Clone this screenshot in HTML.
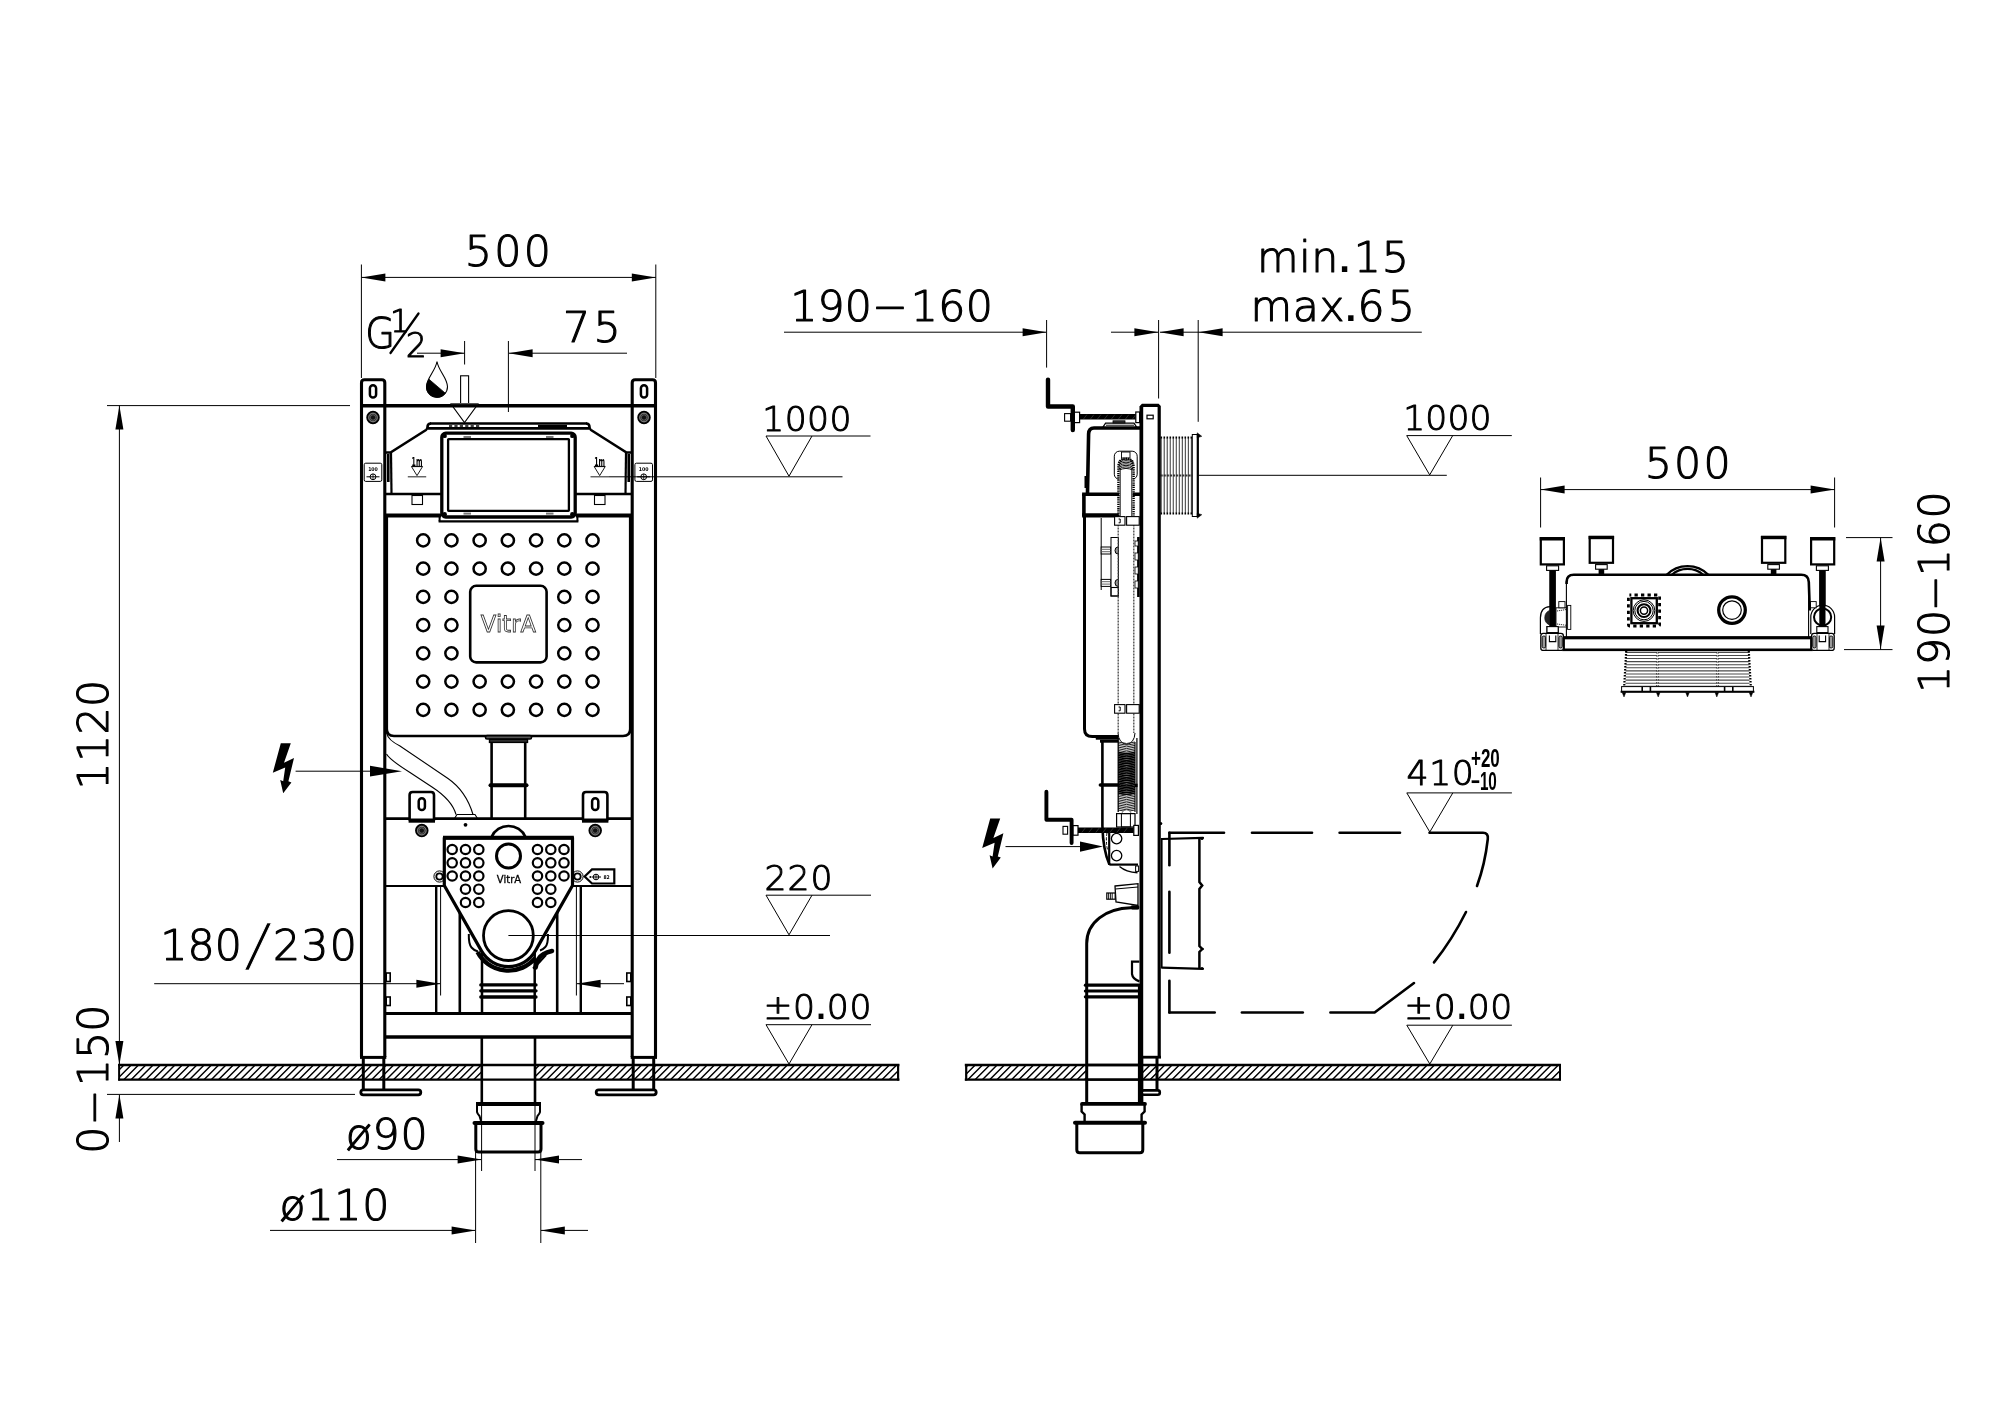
<!DOCTYPE html>
<html lang="en"><head><meta charset="utf-8"><title>Concealed cistern frame – technical drawing</title>
<style>html,body{margin:0;padding:0;background:#fff}svg{display:block;will-change:transform}.t{font-family:"DejaVu Sans Light","DejaVu Sans","Liberation Sans",sans-serif;font-weight:200;fill:#000;stroke:#000;stroke-width:1.1px;font-kerning:none;stroke-linejoin:round}.lb{font-family:"Liberation Sans",sans-serif;font-weight:bold;fill:#000;stroke:none}.s{font-family:"DejaVu Sans","Liberation Sans",sans-serif;fill:#000;stroke:none}.b{font-family:"DejaVu Sans Condensed","DejaVu Sans","Liberation Sans",sans-serif;font-weight:bold;fill:#000;stroke:none}</style></head><body>
<svg width="2000" height="1412" viewBox="0 0 2000 1412">
<rect width="2000" height="1412" fill="#fff"/>
<defs>
<clipPath id="cf1"><rect x="119.4" y="1065" width="362" height="15"/><rect x="535" y="1065" width="363.5" height="15"/></clipPath>
<clipPath id="cf2"><rect x="965.7" y="1065" width="120.8" height="15"/><rect x="1143" y="1065" width="417" height="15"/></clipPath>
</defs>
<g stroke="#000" fill="none" stroke-linecap="butt" stroke-linejoin="miter">
<g id="front">
<path d="M101.63,1080l15,-15M108.92,1080l15,-15M116.21,1080l15,-15M123.50,1080l15,-15M130.79,1080l15,-15M138.08,1080l15,-15M145.37,1080l15,-15M152.66,1080l15,-15M159.95,1080l15,-15M167.24,1080l15,-15M174.53,1080l15,-15M181.82,1080l15,-15M189.11,1080l15,-15M196.40,1080l15,-15M203.69,1080l15,-15M210.98,1080l15,-15M218.27,1080l15,-15M225.56,1080l15,-15M232.85,1080l15,-15M240.14,1080l15,-15M247.43,1080l15,-15M254.72,1080l15,-15M262.01,1080l15,-15M269.30,1080l15,-15M276.59,1080l15,-15M283.88,1080l15,-15M291.17,1080l15,-15M298.46,1080l15,-15M305.75,1080l15,-15M313.04,1080l15,-15M320.33,1080l15,-15M327.62,1080l15,-15M334.91,1080l15,-15M342.20,1080l15,-15M349.49,1080l15,-15M356.78,1080l15,-15M364.07,1080l15,-15M371.36,1080l15,-15M378.65,1080l15,-15M385.94,1080l15,-15M393.23,1080l15,-15M400.52,1080l15,-15M407.81,1080l15,-15M415.10,1080l15,-15M422.39,1080l15,-15M429.68,1080l15,-15M436.97,1080l15,-15M444.26,1080l15,-15M451.55,1080l15,-15M458.84,1080l15,-15M466.13,1080l15,-15M473.42,1080l15,-15M480.71,1080l15,-15M488.00,1080l15,-15M495.29,1080l15,-15M502.58,1080l15,-15M509.87,1080l15,-15M517.16,1080l15,-15M524.45,1080l15,-15M531.74,1080l15,-15M539.03,1080l15,-15M546.32,1080l15,-15M553.61,1080l15,-15M560.90,1080l15,-15M568.19,1080l15,-15M575.48,1080l15,-15M582.77,1080l15,-15M590.06,1080l15,-15M597.35,1080l15,-15M604.64,1080l15,-15M611.93,1080l15,-15M619.22,1080l15,-15M626.51,1080l15,-15M633.80,1080l15,-15M641.09,1080l15,-15M648.38,1080l15,-15M655.67,1080l15,-15M662.96,1080l15,-15M670.25,1080l15,-15M677.54,1080l15,-15M684.83,1080l15,-15M692.12,1080l15,-15M699.41,1080l15,-15M706.70,1080l15,-15M713.99,1080l15,-15M721.28,1080l15,-15M728.57,1080l15,-15M735.86,1080l15,-15M743.15,1080l15,-15M750.44,1080l15,-15M757.73,1080l15,-15M765.02,1080l15,-15M772.31,1080l15,-15M779.60,1080l15,-15M786.89,1080l15,-15M794.18,1080l15,-15M801.47,1080l15,-15M808.76,1080l15,-15M816.05,1080l15,-15M823.34,1080l15,-15M830.63,1080l15,-15M837.92,1080l15,-15M845.21,1080l15,-15M852.50,1080l15,-15M859.79,1080l15,-15M867.08,1080l15,-15M874.37,1080l15,-15M881.66,1080l15,-15M888.95,1080l15,-15M896.24,1080l15,-15" stroke-width="1.45" clip-path="url(#cf1)"/>
<path d="M118.2,1065L899.4,1065" stroke-width="2.5" />
<path d="M118.2,1079.6L899.4,1079.6" stroke-width="2.3" />
<path d="M119.1,1064L119.1,1080.6" stroke-width="2" />
<path d="M898.1,1064L898.1,1080.6" stroke-width="2.2" />
<path d="M361.5,1057V382.8Q361.5,379.8 364.5,379.8H381.8Q384.8,379.8 384.8,382.8V1057" stroke-width="3.1" fill="none" />
<path d="M360,1057.4L386.3,1057.4" stroke-width="3" />
<path d="M363.3,1057L363.3,1090" stroke-width="3" />
<path d="M383.8,1057L383.8,1090" stroke-width="3" />
<rect x="360.8" y="1089.8" width="60" height="5" rx="2.5" stroke-width="2.8" fill="#fff" />
<rect x="369.9" y="385.2" width="6.2" height="12.4" rx="3.1" stroke-width="2.5" fill="none" />
<circle cx="373" cy="417.5" r="5.9" stroke-width="1.7" fill="#2a2a2a" />
<circle cx="373" cy="417.5" r="4.3" stroke-width="0.7" fill="none" stroke="#aaa"/>
<circle cx="373" cy="417.5" r="2.7" stroke-width="0.6" fill="#111" stroke="#888"/>
<rect x="386.2" y="973" width="4" height="8.5" rx="0" stroke-width="1.6" fill="none" />
<rect x="386.2" y="997" width="4" height="8.5" rx="0" stroke-width="1.6" fill="none" />
<path d="M655.5,1057V382.8Q655.5,379.8 652.5,379.8H635.2Q632.2,379.8 632.2,382.8V1057" stroke-width="3.1" fill="none" />
<path d="M630.7,1057.4L657,1057.4" stroke-width="3" />
<path d="M653.7,1057L653.7,1090" stroke-width="3" />
<path d="M633.2,1057L633.2,1090" stroke-width="3" />
<rect x="596.2" y="1089.8" width="60" height="5" rx="2.5" stroke-width="2.8" fill="#fff" />
<rect x="640.9" y="385.2" width="6.2" height="12.4" rx="3.1" stroke-width="2.5" fill="none" />
<circle cx="644" cy="417.5" r="5.9" stroke-width="1.7" fill="#2a2a2a" />
<circle cx="644" cy="417.5" r="4.3" stroke-width="0.7" fill="none" stroke="#aaa"/>
<circle cx="644" cy="417.5" r="2.7" stroke-width="0.6" fill="#111" stroke="#888"/>
<rect x="626.8" y="973" width="4" height="8.5" rx="0" stroke-width="1.6" fill="none" />
<rect x="626.8" y="997" width="4" height="8.5" rx="0" stroke-width="1.6" fill="none" />
<path d="M361.5,405.7L655.5,405.7" stroke-width="3.6" />
<rect x="364.2" y="463.2" width="17.6" height="18.2" rx="1.5" stroke-width="1" fill="#fff" />
<text x="373" y="471.2" font-size="5.2" text-anchor="middle" class="b" >100</text>
<circle cx="373" cy="476.8" r="2.9" stroke-width="1" fill="none" />
<path d="M366.5,476.8L379.5,476.8" stroke-width="1" />
<path d="M373,473.9L373,479.7" stroke-width="0.8" />
<rect x="634.9" y="463.2" width="17.6" height="18.2" rx="1.5" stroke-width="1" fill="#fff" />
<text x="643.7" y="471.2" font-size="5.2" text-anchor="middle" class="b" >100</text>
<circle cx="643.7" cy="476.8" r="2.9" stroke-width="1" fill="none" />
<path d="M637.2,476.8L650.2,476.8" stroke-width="1" />
<path d="M643.7,473.9L643.7,479.7" stroke-width="0.8" />
<path d="M385.5,452.5H390.5L426,430Q427.5,429 427.5,427 Q427.5,423.5 431,423.5" stroke-width="2.6" fill="none" />
<path d="M391,452.5L391.5,494" stroke-width="2.2" />
<path d="M388.3,454L388.3,482" stroke-width="2.6" />
<path d="M386,494L441,494" stroke-width="2.6" />
<path d="M386,515.6L441,515.6" stroke-width="4" />
<rect x="412" y="495.5" width="10.5" height="9" rx="0" stroke-width="1.1" fill="none" />
<path d="M631.5,452.5H626.5L591,430Q589.5,429 589.5,427 Q589.5,423.5 586,423.5" stroke-width="2.6" fill="none" />
<path d="M626,452.5L625.5,494" stroke-width="2.2" />
<path d="M628.7,454L628.7,482" stroke-width="2.6" />
<path d="M631,494L576,494" stroke-width="2.6" />
<path d="M631,515.6L576,515.6" stroke-width="4" />
<rect x="594.5" y="495.5" width="10.5" height="9" rx="0" stroke-width="1.1" fill="none" />
<path d="M430,423.5L587,423.5" stroke-width="2.6" />
<path d="M428,428.4L589,428.4" stroke-width="2.6" />
<path d="M449,426L480,426" stroke-width="1.6" stroke-dasharray="3.2 2.2"/>
<path d="M538,426L567,426" stroke-width="2.2" />
<rect x="460.6" y="375.8" width="8" height="28.2" rx="0" stroke-width="1.1" fill="#fff" />
<path d="M451,404H478L464.5,422.5Z" stroke-width="1.1" fill="none" />
<path d="M451,403.6L478,403.6" stroke-width="1.2" stroke="#555"/>
<path d="M437,361.5C438.5,371 447.5,378 447.5,386.8A10.5,10.5 0 1 1 426.5,386.8C426.5,378 435.5,371 437,361.5Z" stroke-width="1.1" fill="#fff" />
<path d="M429,379.3L445.3,393.2A10.5,10.5 0 0 1 426.5,386.8C426.5,384 427.5,381.5 429,379.3Z" stroke-width="0.8" fill="#000" />
<text x="411.6" y="465.6" font-size="13" class="b" textLength="10.8" lengthAdjust="spacingAndGlyphs">1m</text>
<path d="M411.5,466.4L422.5,466.4" stroke-width="0.9" />
<path d="M411.5,466.6H422.5L417,475.6Z" stroke-width="0.9" fill="none" />
<path d="M407.8,476.8L426.2,476.8" stroke-width="1.1" stroke="#333"/>
<text x="594.3" y="465.6" font-size="13" class="b" textLength="10.8" lengthAdjust="spacingAndGlyphs">1m</text>
<path d="M594.2,466.4L605.2,466.4" stroke-width="0.9" />
<path d="M594.2,466.6H605.2L599.7,475.6Z" stroke-width="0.9" fill="none" />
<path d="M590.5,476.8L609,476.8" stroke-width="1.1" stroke="#333"/>
<path d="M439.6,515L439.6,521.3" stroke-width="2" />
<path d="M577.4,515L577.4,521.3" stroke-width="2" />
<path d="M438.6,521.3L578.4,521.3" stroke-width="2.2" />
<rect x="441.8" y="433.2" width="133.4" height="83.8" rx="4" stroke-width="3.3" fill="#fff" />
<rect x="448.1" y="439.1" width="120.8" height="71.7" rx="0.5" stroke-width="2.3" fill="none" />
<rect x="463.5" y="436" width="7.5" height="2" rx="0" stroke-width="0" fill="#777" stroke="none"/>
<rect x="463.5" y="512.6" width="7.5" height="2" rx="0" stroke-width="0" fill="#777" stroke="none"/>
<rect x="546" y="436" width="7.5" height="2" rx="0" stroke-width="0" fill="#777" stroke="none"/>
<rect x="546" y="512.6" width="7.5" height="2" rx="0" stroke-width="0" fill="#777" stroke="none"/>
<circle cx="572.3" cy="435.9" r="2.2" stroke-width="0" fill="#000" stroke="none"/>
<circle cx="572.3" cy="514.3" r="2.2" stroke-width="0" fill="#000" stroke="none"/>
<circle cx="444.7" cy="435.9" r="2.2" stroke-width="0" fill="#000" stroke="none"/>
<circle cx="444.7" cy="514.3" r="2.2" stroke-width="0" fill="#000" stroke="none"/>
<path d="M386.8,517V729Q386.8,736 394,736H623Q630.2,736 630.2,729V517" stroke-width="2.6" fill="none" />
<circle cx="423.2" cy="540.4" r="6.1" stroke-width="2.5" fill="none" />
<circle cx="423.2" cy="568.64" r="6.1" stroke-width="2.5" fill="none" />
<circle cx="423.2" cy="596.88" r="6.1" stroke-width="2.5" fill="none" />
<circle cx="423.2" cy="625.12" r="6.1" stroke-width="2.5" fill="none" />
<circle cx="423.2" cy="653.36" r="6.1" stroke-width="2.5" fill="none" />
<circle cx="423.2" cy="681.6" r="6.1" stroke-width="2.5" fill="none" />
<circle cx="423.2" cy="709.84" r="6.1" stroke-width="2.5" fill="none" />
<circle cx="451.42" cy="540.4" r="6.1" stroke-width="2.5" fill="none" />
<circle cx="451.42" cy="568.64" r="6.1" stroke-width="2.5" fill="none" />
<circle cx="451.42" cy="596.88" r="6.1" stroke-width="2.5" fill="none" />
<circle cx="451.42" cy="625.12" r="6.1" stroke-width="2.5" fill="none" />
<circle cx="451.42" cy="653.36" r="6.1" stroke-width="2.5" fill="none" />
<circle cx="451.42" cy="681.6" r="6.1" stroke-width="2.5" fill="none" />
<circle cx="451.42" cy="709.84" r="6.1" stroke-width="2.5" fill="none" />
<circle cx="479.64" cy="540.4" r="6.1" stroke-width="2.5" fill="none" />
<circle cx="479.64" cy="568.64" r="6.1" stroke-width="2.5" fill="none" />
<circle cx="479.64" cy="681.6" r="6.1" stroke-width="2.5" fill="none" />
<circle cx="479.64" cy="709.84" r="6.1" stroke-width="2.5" fill="none" />
<circle cx="507.86" cy="540.4" r="6.1" stroke-width="2.5" fill="none" />
<circle cx="507.86" cy="568.64" r="6.1" stroke-width="2.5" fill="none" />
<circle cx="507.86" cy="681.6" r="6.1" stroke-width="2.5" fill="none" />
<circle cx="507.86" cy="709.84" r="6.1" stroke-width="2.5" fill="none" />
<circle cx="536.08" cy="540.4" r="6.1" stroke-width="2.5" fill="none" />
<circle cx="536.08" cy="568.64" r="6.1" stroke-width="2.5" fill="none" />
<circle cx="536.08" cy="681.6" r="6.1" stroke-width="2.5" fill="none" />
<circle cx="536.08" cy="709.84" r="6.1" stroke-width="2.5" fill="none" />
<circle cx="564.3" cy="540.4" r="6.1" stroke-width="2.5" fill="none" />
<circle cx="564.3" cy="568.64" r="6.1" stroke-width="2.5" fill="none" />
<circle cx="564.3" cy="596.88" r="6.1" stroke-width="2.5" fill="none" />
<circle cx="564.3" cy="625.12" r="6.1" stroke-width="2.5" fill="none" />
<circle cx="564.3" cy="653.36" r="6.1" stroke-width="2.5" fill="none" />
<circle cx="564.3" cy="681.6" r="6.1" stroke-width="2.5" fill="none" />
<circle cx="564.3" cy="709.84" r="6.1" stroke-width="2.5" fill="none" />
<circle cx="592.52" cy="540.4" r="6.1" stroke-width="2.5" fill="none" />
<circle cx="592.52" cy="568.64" r="6.1" stroke-width="2.5" fill="none" />
<circle cx="592.52" cy="596.88" r="6.1" stroke-width="2.5" fill="none" />
<circle cx="592.52" cy="625.12" r="6.1" stroke-width="2.5" fill="none" />
<circle cx="592.52" cy="653.36" r="6.1" stroke-width="2.5" fill="none" />
<circle cx="592.52" cy="681.6" r="6.1" stroke-width="2.5" fill="none" />
<circle cx="592.52" cy="709.84" r="6.1" stroke-width="2.5" fill="none" />
<rect x="470.2" y="585.8" width="76.4" height="76.6" rx="6" stroke-width="2.6" fill="none" />
<text x="508.3" y="632.4" font-size="22.6" text-anchor="middle" font-family="DejaVu Sans,Liberation Sans,sans-serif" fill="#fff" stroke="#333" stroke-width=".8" style="font-kerning:none">VitrA</text>
<path d="M386.5,733Q388,740 400,746L448,778.5Q466,791 473,814.5" stroke-width="1.1" fill="none" />
<path d="M386.5,754Q390,760 410,772.5L432,787Q452,800 456,814.5" stroke-width="1.1" fill="none" />
<path d="M454.5,818.5L457,814.5H475L477.5,818.5" stroke-width="1.1" fill="none" />
<rect x="485.5" y="735.6" width="46" height="3.4" rx="1.5" stroke-width="1.6" fill="#555" />
<rect x="489.5" y="739.4" width="38" height="3" rx="0" stroke-width="1.4" fill="#333" />
<path d="M491.6,742L491.6,818.5" stroke-width="2.6" />
<path d="M525.2,742L525.2,818.5" stroke-width="2.6" />
<path d="M490.5,785.2L526.5,785.2" stroke-width="4" stroke-linecap="round"/>
<path d="M385,818.6L632,818.6" stroke-width="2.6" />
<path d="M409.6,820.5V795Q409.6,792 412.6,792H431Q434,792 434,795V820.5" stroke-width="2.6" fill="#fff" />
<path d="M408.6,820.6L435,820.6" stroke-width="4.2" />
<rect x="418.7" y="798.2" width="6.2" height="11.8" rx="3.1" stroke-width="2.5" fill="none" />
<circle cx="421.8" cy="830.6" r="5.9" stroke-width="1.7" fill="#2a2a2a" />
<circle cx="421.8" cy="830.6" r="4.3" stroke-width="0.7" fill="none" stroke="#aaa"/>
<circle cx="421.8" cy="830.6" r="2.7" stroke-width="0.6" fill="#111" stroke="#888"/>
<path d="M583,820.5V795Q583,792 586,792H604.4Q607.4,792 607.4,795V820.5" stroke-width="2.6" fill="#fff" />
<path d="M582,820.6L608.4,820.6" stroke-width="4.2" />
<rect x="592.1" y="798.2" width="6.2" height="11.8" rx="3.1" stroke-width="2.5" fill="none" />
<circle cx="595.2" cy="830.6" r="5.9" stroke-width="1.7" fill="#2a2a2a" />
<circle cx="595.2" cy="830.6" r="4.3" stroke-width="0.7" fill="none" stroke="#aaa"/>
<circle cx="595.2" cy="830.6" r="2.7" stroke-width="0.6" fill="#111" stroke="#888"/>
<circle cx="465.5" cy="824.8" r="1.9" stroke-width="0" fill="#000" stroke="none"/>
<path d="M385,886L444.3,886" stroke-width="2.2" />
<path d="M572.5,886L632,886" stroke-width="2.2" />
<path d="M436.2,886L436.2,1013" stroke-width="2.4" />
<path d="M440.6,886L440.6,995.5" stroke-width="1" />
<path d="M459.8,886L459.8,1013" stroke-width="2.6" />
<circle cx="439.5" cy="876.5" r="5.6" stroke-width="1" fill="none" />
<circle cx="439.5" cy="876.5" r="3.2" stroke-width="1.8" fill="none" />
<path d="M580.8,886L580.8,1013" stroke-width="2.4" />
<path d="M576.4,886L576.4,995.5" stroke-width="1" />
<path d="M557.2,886L557.2,1013" stroke-width="2.6" />
<circle cx="577.5" cy="876.5" r="5.6" stroke-width="1" fill="none" />
<circle cx="577.5" cy="876.5" r="3.2" stroke-width="1.8" fill="none" />
<path d="M482,945L482,1013" stroke-width="2.5" />
<path d="M534.7,945L534.7,1013" stroke-width="2.5" />
<path d="M480.8,984.9L536,984.9" stroke-width="3.3" stroke-linecap="round"/>
<path d="M480.8,990.8L536,990.8" stroke-width="3.3" stroke-linecap="round"/>
<path d="M480.8,997L536,997" stroke-width="3.3" stroke-linecap="round"/>
<path d="M468.8,934Q468.6,944 471.5,947.5Q474,950.5 478,951.5" stroke-width="2" fill="none" />
<path d="M548,934Q548.2,944 545.3,947Q543,949.5 540,950.5" stroke-width="2" fill="none" />
<path d="M477.5,952.0A35,35 0 0 0 535.2,958.1" stroke-width="4.4" fill="none" />
<path d="M535.6,967.5Q537,958 543,954.5Q547,952 552,951" stroke-width="4.6" fill="none" stroke-linecap="round"/>
<path d="M533,968.4Q540,962 546,955" stroke-width="2" fill="none" />
<path d="M491.5,837A18.6,18.6 0 0 1 525.5,837" stroke-width="2.6" fill="none" />
<path d="M444.3,837.8H572.5V885.5L535.36,950.91A31,31 0 0 1 481.44,950.91L444.3,885.5Z" stroke-width="3.2" fill="#fff" stroke-linejoin="round"/>
<path d="M443,837.8L573.8,837.8" stroke-width="4" />
<circle cx="452.2" cy="849.5" r="4.7" stroke-width="2.2" fill="none" />
<circle cx="452.2" cy="862.8" r="4.7" stroke-width="2.2" fill="none" />
<circle cx="452.2" cy="876" r="4.7" stroke-width="2.2" fill="none" />
<circle cx="465.5" cy="849.5" r="4.7" stroke-width="2.2" fill="none" />
<circle cx="465.5" cy="862.8" r="4.7" stroke-width="2.2" fill="none" />
<circle cx="465.5" cy="876" r="4.7" stroke-width="2.2" fill="none" />
<circle cx="465.5" cy="889.2" r="4.7" stroke-width="2.2" fill="none" />
<circle cx="465.5" cy="902.5" r="4.7" stroke-width="2.2" fill="none" />
<circle cx="478.8" cy="849.5" r="4.7" stroke-width="2.2" fill="none" />
<circle cx="478.8" cy="862.8" r="4.7" stroke-width="2.2" fill="none" />
<circle cx="478.8" cy="876" r="4.7" stroke-width="2.2" fill="none" />
<circle cx="478.8" cy="889.2" r="4.7" stroke-width="2.2" fill="none" />
<circle cx="478.8" cy="902.5" r="4.7" stroke-width="2.2" fill="none" />
<circle cx="537.5" cy="849.5" r="4.7" stroke-width="2.2" fill="none" />
<circle cx="537.5" cy="862.8" r="4.7" stroke-width="2.2" fill="none" />
<circle cx="537.5" cy="876" r="4.7" stroke-width="2.2" fill="none" />
<circle cx="537.5" cy="889.2" r="4.7" stroke-width="2.2" fill="none" />
<circle cx="537.5" cy="902.5" r="4.7" stroke-width="2.2" fill="none" />
<circle cx="550.8" cy="849.5" r="4.7" stroke-width="2.2" fill="none" />
<circle cx="550.8" cy="862.8" r="4.7" stroke-width="2.2" fill="none" />
<circle cx="550.8" cy="876" r="4.7" stroke-width="2.2" fill="none" />
<circle cx="550.8" cy="889.2" r="4.7" stroke-width="2.2" fill="none" />
<circle cx="550.8" cy="902.5" r="4.7" stroke-width="2.2" fill="none" />
<circle cx="564" cy="849.5" r="4.7" stroke-width="2.2" fill="none" />
<circle cx="564" cy="862.8" r="4.7" stroke-width="2.2" fill="none" />
<circle cx="564" cy="876" r="4.7" stroke-width="2.2" fill="none" />
<circle cx="508.5" cy="856" r="12" stroke-width="3" fill="none" />
<circle cx="508.4" cy="935.6" r="24.9" stroke-width="2.8" fill="none" />
<text x="509" y="882.6" font-size="10" text-anchor="middle" class="s" style="stroke:#000;stroke-width:.3px">VitrA</text>
<path d="M584.6,876.5L592,869.4H614.3V883.5H592Z" stroke-width="2.2" fill="#fff" />
<circle cx="596" cy="877" r="2.8" stroke-width="1" fill="none" />
<path d="M591.5,877L601,877" stroke-width="1" />
<path d="M596,874L596,880" stroke-width="0.8" />
<circle cx="590.3" cy="877" r="0.9" stroke-width="0" fill="#000" stroke="none"/>
<text x="606.6" y="878.8" font-size="5" text-anchor="middle" class="b" >82</text>
<path d="M385,1013.6L632,1013.6" stroke-width="3" />
<path d="M385,1037L632,1037" stroke-width="3.4" />
<path d="M481.8,1037L481.8,1103" stroke-width="2.6" />
<path d="M535,1037L535,1103" stroke-width="2.6" />
<path d="M477,1104V1112Q477.5,1114 479.5,1116L481,1121" stroke-width="2" fill="none" />
<path d="M540,1104V1112Q539.5,1114 537.5,1116L536,1121" stroke-width="2" fill="none" />
<path d="M476,1104L541,1104" stroke-width="4" />
<path d="M474.5,1123L542.5,1123" stroke-width="4" stroke-linecap="round"/>
<path d="M475.8,1124V1149Q475.8,1152 478.8,1152H538Q541,1152 541,1149V1124" stroke-width="3" fill="none" />
<path d="M481.6,1104L481.6,1171" stroke-width="1" />
<path d="M535,1104L535,1171" stroke-width="1" />
<path d="M475.6,1152L475.6,1243" stroke-width="1" />
<path d="M540.8,1152L540.8,1243" stroke-width="1" />
<path d="M508.4,935.5L830,935.5" stroke-width="1" />
<path d="M609,476.8L842.5,476.8" stroke-width="1" />
</g>
<g id="fdim">
<path d="M361.4,264.5L361.4,378" stroke-width="1" />
<path d="M655.8,264.5L655.8,378" stroke-width="1" />
<path d="M361.4,277.4L655.8,277.4" stroke-width="1" />
<polygon points="361.4,277.4 385.4,273.4 385.4,281.4" stroke-width="0" fill="#000" stroke="none"/>
<polygon points="655.8,277.4 631.8,281.4 631.8,273.4" stroke-width="0" fill="#000" stroke="none"/>
<text y="266" font-size="42.7" class="t" style="stroke-width:1.1px" ><tspan x="464.84" letter-spacing="2.29">500</tspan></text>
<path d="M508.4,341L508.4,412" stroke-width="1" />
<path d="M509,353.2L627,353.2" stroke-width="1" />
<polygon points="508.6,353.2 532.6,349.2 532.6,357.2" stroke-width="0" fill="#000" stroke="none"/>
<text y="341.8" font-size="42.7" class="t" style="stroke-width:1.1px" ><tspan x="563.05" letter-spacing="3.32">75</tspan></text>
<path d="M464.6,341L464.6,364.5" stroke-width="1" />
<path d="M417,353.2L464.5,353.2" stroke-width="1" />
<polygon points="464.6,353.2 440.6,357.2 440.6,349.2" stroke-width="0" fill="#000" stroke="none"/>
<title>G½</title>
<text transform="translate(365.3,348) scale(.9,1)" font-size="42.7" class="t">G</text>
<text y="331.5" font-size="31.5" class="t" style="stroke-width:1px" ><tspan x="390.04" letter-spacing="0.00">1</tspan></text>
<path d="M390.5,353L418.5,313.5" stroke-width="2.3" stroke-linecap="round"/>
<text y="357" font-size="33" class="t" style="stroke-width:1px" ><tspan x="405.71" letter-spacing="0.00">2</tspan></text>
<path d="M107,405.6L350,405.6" stroke-width="1" />
<path d="M119.4,405.6L119.4,1065" stroke-width="1" />
<polygon points="119.4,405.6 123.4,429.6 115.4,429.6" stroke-width="0" fill="#000" stroke="none"/>
<polygon points="119.4,1065 115.4,1041 123.4,1041" stroke-width="0" fill="#000" stroke="none"/>
<path d="M107,1094.4L355,1094.4" stroke-width="1" />
<path d="M119.4,1095L119.4,1142" stroke-width="1" />
<polygon points="119.4,1094.6 123.4,1118.6 115.4,1118.6" stroke-width="0" fill="#000" stroke="none"/>
<text transform="translate(108.2,785.5) rotate(-90)" y="0" font-size="42.7" class="t" style="stroke-width:1.1px" ><tspan x="-4.14" letter-spacing="0.36">1120</tspan></text>
<text transform="translate(108.2,1150.6) rotate(-90)" y="0" font-size="42.7" class="t" style="stroke-width:1.1px" ><tspan x="-3.27" letter-spacing="0.00">0</tspan><tspan x="25.43" letter-spacing="0.00">−</tspan><tspan x="64.46" letter-spacing="0.03">150</tspan></text>
<path d="M154.2,983.7L440,983.7" stroke-width="1" />
<polygon points="440.4,983.7 416.4,987.7 416.4,979.7" stroke-width="0" fill="#000" stroke="none"/>
<path d="M577,983.7L624,983.7" stroke-width="1" />
<polygon points="576.6,983.7 600.6,979.7 600.6,987.7" stroke-width="0" fill="#000" stroke="none"/>
<text y="959.8" font-size="42.7" class="t" style="stroke-width:1.1px" ><tspan x="160.16" letter-spacing="0.18">180</tspan><tspan x="272.99" letter-spacing="1.21">230</tspan></text>
<text transform="translate(243.2,964.6) scale(2.05,1.32)" font-size="42.7" class="t" style="stroke:#fff;stroke-width:.55px">/</text>
<polygon points="280.8,743.2 290.8,743.2 284,762.8 294,758 288.4,781.2 291.4,782.4 283.2,793.2 280.2,780 283.2,781.2 285.2,767.6 272.8,772.8" stroke-width="0" fill="#000" stroke="none"/>
<path d="M295.6,771.2L380,771.2" stroke-width="1" />
<polygon points="402,771.2 370,776.6 370,765.8" stroke-width="0" fill="#000" stroke="none"/>
<path d="M337,1159.6L481,1159.6" stroke-width="1" />
<polygon points="481.6,1159.6 457.6,1163.6 457.6,1155.6" stroke-width="0" fill="#000" stroke="none"/>
<path d="M535,1159.6L582,1159.6" stroke-width="1" />
<polygon points="535,1159.6 559,1155.6 559,1163.6" stroke-width="0" fill="#000" stroke="none"/>
<text y="1148.5" font-size="42.7" class="t" style="stroke-width:1.1px" ><tspan x="345.68" letter-spacing="0.74">ø90</tspan></text>
<path d="M270,1230.4L475,1230.4" stroke-width="1" />
<polygon points="475.6,1230.4 451.6,1234.4 451.6,1226.4" stroke-width="0" fill="#000" stroke="none"/>
<path d="M541,1230.4L588,1230.4" stroke-width="1" />
<polygon points="540.8,1230.4 564.8,1226.4 564.8,1234.4" stroke-width="0" fill="#000" stroke="none"/>
<text y="1219.5" font-size="42.7" class="t" style="stroke-width:1.1px" ><tspan x="279.58" letter-spacing="0.73">ø110</tspan></text>
<text y="431" font-size="34.6" class="t" style="stroke-width:1px" ><tspan x="762.30" letter-spacing="0.39">1000</tspan></text>
<path d="M766,436L870.5,436" stroke-width="1" />
<path d="M766,436L789,476.2L812,436" stroke-width="1" fill="none" />
<text y="889.6" font-size="34.6" class="t" style="stroke-width:1px" ><tspan x="764.40" letter-spacing="1.03">220</tspan></text>
<path d="M766,895.2L871,895.2" stroke-width="1" />
<path d="M766,895.2L789,934.8L812,895.2" stroke-width="1" fill="none" />
<text y="1018.5" font-size="34.6" class="t" style="stroke-width:1px" ><tspan x="763.47" letter-spacing="0.60">±0<tspan font-family="DejaVu Sans,Liberation Sans,sans-serif" font-weight="bold" font-size="27.7" stroke="none">.</tspan>00</tspan></text>
<path d="M766,1024.7L871,1024.7" stroke-width="1" />
<path d="M766,1024.7L789,1064L812,1024.7" stroke-width="1" fill="none" />
</g>
<g id="side">
<path d="M945.63,1080l15,-15M952.92,1080l15,-15M960.21,1080l15,-15M967.50,1080l15,-15M974.79,1080l15,-15M982.08,1080l15,-15M989.37,1080l15,-15M996.66,1080l15,-15M1003.95,1080l15,-15M1011.24,1080l15,-15M1018.53,1080l15,-15M1025.82,1080l15,-15M1033.11,1080l15,-15M1040.40,1080l15,-15M1047.69,1080l15,-15M1054.98,1080l15,-15M1062.27,1080l15,-15M1069.56,1080l15,-15M1076.85,1080l15,-15M1084.14,1080l15,-15M1091.43,1080l15,-15M1098.72,1080l15,-15M1106.01,1080l15,-15M1113.30,1080l15,-15M1120.59,1080l15,-15M1127.88,1080l15,-15M1135.17,1080l15,-15M1142.46,1080l15,-15M1149.75,1080l15,-15M1157.04,1080l15,-15M1164.33,1080l15,-15M1171.62,1080l15,-15M1178.91,1080l15,-15M1186.20,1080l15,-15M1193.49,1080l15,-15M1200.78,1080l15,-15M1208.07,1080l15,-15M1215.36,1080l15,-15M1222.65,1080l15,-15M1229.94,1080l15,-15M1237.23,1080l15,-15M1244.52,1080l15,-15M1251.81,1080l15,-15M1259.10,1080l15,-15M1266.39,1080l15,-15M1273.68,1080l15,-15M1280.97,1080l15,-15M1288.26,1080l15,-15M1295.55,1080l15,-15M1302.84,1080l15,-15M1310.13,1080l15,-15M1317.42,1080l15,-15M1324.71,1080l15,-15M1332.00,1080l15,-15M1339.29,1080l15,-15M1346.58,1080l15,-15M1353.87,1080l15,-15M1361.16,1080l15,-15M1368.45,1080l15,-15M1375.74,1080l15,-15M1383.03,1080l15,-15M1390.32,1080l15,-15M1397.61,1080l15,-15M1404.90,1080l15,-15M1412.19,1080l15,-15M1419.48,1080l15,-15M1426.77,1080l15,-15M1434.06,1080l15,-15M1441.35,1080l15,-15M1448.64,1080l15,-15M1455.93,1080l15,-15M1463.22,1080l15,-15M1470.51,1080l15,-15M1477.80,1080l15,-15M1485.09,1080l15,-15M1492.38,1080l15,-15M1499.67,1080l15,-15M1506.96,1080l15,-15M1514.25,1080l15,-15M1521.54,1080l15,-15M1528.83,1080l15,-15M1536.12,1080l15,-15M1543.41,1080l15,-15M1550.70,1080l15,-15M1557.99,1080l15,-15" stroke-width="1.45" clip-path="url(#cf2)"/>
<path d="M964.8,1065L1560.9,1065" stroke-width="2.5" />
<path d="M964.8,1079.6L1560.9,1079.6" stroke-width="2.3" />
<path d="M966.2,1064L966.2,1080.6" stroke-width="2.2" />
<path d="M1560,1064L1560,1080.6" stroke-width="2" />
<path d="M1161.20,438V513M1164.22,438V513M1167.24,438V513M1170.26,438V513M1173.28,438V513M1176.30,438V513M1179.32,438V513M1182.34,438V513M1185.36,438V513M1188.38,438V513M1191.40,438V513" stroke-width="1.1" fill="none" stroke="#4a4a4a"/>
<path d="M1160.5,437.6L1192.5,437.6" stroke-width="2" stroke-dasharray="1.6 1.4"/>
<path d="M1160.5,513.4L1192.5,513.4" stroke-width="2" stroke-dasharray="1.6 1.4"/>
<path d="M1160.5,475.4L1192.7,475.4" stroke-width="2" stroke="#333" stroke-dasharray="2.2 0.9"/>
<rect x="1192.3" y="434.5" width="5.5" height="82" rx="0" stroke-width="1" fill="#fff" />
<path d="M1197.8,434L1197.8,517" stroke-width="2.2" />
<polygon points="1197.2,432.8 1201.8,436.3 1197.2,437.8" stroke-width="0.5" fill="#000" />
<polygon points="1197.2,518.2 1201.8,514.7 1197.2,513.2" stroke-width="0.5" fill="#000" />
<path d="M1161.8,838L1161.8,968" stroke-width="1.6" />
<path d="M1161.8,839L1203,837.8" stroke-width="2.2" fill="none" stroke-linecap="round"/>
<path d="M1161.8,967.6L1203,968.8" stroke-width="2.2" fill="none" stroke-linecap="round"/>
<path d="M1199.4,838V882l2.8,3.5l-2.8,3.5V946l2.8,3l-2.8,3V968.5" stroke-width="2.5" fill="none" />
<circle cx="1202" cy="838.4" r="1.5" stroke-width="0" fill="#000" stroke="none"/>
<circle cx="1202" cy="968.6" r="1.5" stroke-width="0" fill="#000" stroke="none"/>
<circle cx="1202.6" cy="949" r="1.2" stroke-width="0" fill="#000" stroke="none"/>
<path d="M1169.4,832.8L1224,832.8" stroke-width="2.6" stroke-linecap="round"/>
<path d="M1252,832.8L1312,832.8" stroke-width="2.6" stroke-linecap="round"/>
<path d="M1339.6,832.8L1400,832.8" stroke-width="2.6" stroke-linecap="round"/>
<path d="M1429.5,832.8H1483Q1488.5,832.8 1487.8,839Q1485,864 1477,886" stroke-width="2.6" fill="none" stroke-linecap="round"/>
<path d="M1466,912Q1452,940 1434,962.4" stroke-width="2.6" fill="none" stroke-linecap="round"/>
<path d="M1414,983L1374.6,1012.5H1330.4" stroke-width="2.6" fill="none" stroke-linecap="round" stroke-linejoin="round"/>
<path d="M1302.8,1012.5L1241.9,1012.5" stroke-width="2.6" stroke-linecap="round"/>
<path d="M1214.7,1012.5L1169.4,1012.5" stroke-width="2.6" stroke-linecap="round"/>
<path d="M1169.4,832.8L1169.4,865.3" stroke-width="2.6" stroke-linecap="round"/>
<path d="M1169.4,891.8L1169.4,952.7" stroke-width="2.6" stroke-linecap="round"/>
<path d="M1169.4,980.8L1169.4,1012.5" stroke-width="2.6" stroke-linecap="round"/>
<path d="M1140,428H1094Q1088.8,428 1088.6,434L1087.5,493" stroke-width="3.6" fill="none" />
<polygon points="1105.6,423.2 1134,423.2 1136.6,427 1103,427" stroke-width="1.3" fill="#fff" />
<path d="M1106,425.4L1134,425.4" stroke-width="1.6" stroke="#555"/>
<rect x="1113" y="420.8" width="12" height="2.2" rx="0" stroke-width="0.8" fill="#333" />
<rect x="1083.9" y="494.4" width="56.1" height="21" rx="0" stroke-width="0" fill="#fff" stroke="none"/>
<path d="M1082.1,494.2L1140,494.2" stroke-width="3.6" />
<path d="M1082.1,515.4L1118.8,515.4" stroke-width="4.4" />
<path d="M1083.9,494L1083.9,516" stroke-width="3.6" />
<path d="M1084.5,516V729Q1084.5,736.6 1092.3,736.6H1118" stroke-width="3" fill="none" />
<path d="M1085.6,476L1085.6,488" stroke-width="2.2" />
<rect x="1096" y="736.6" width="22.2" height="2.8" rx="0" stroke-width="0.5" fill="#000" />
<path d="M1100,741.2L1118.2,741.2" stroke-width="3" />
<path d="M1102.4,740V826Q1103,850 1109.4,864.6" stroke-width="2.6" fill="none" />
<path d="M1100.4,785L1118,785" stroke-width="3.6" stroke-linecap="round"/>
<path d="M1101.2,518L1101.2,590" stroke-width="1" />
<rect x="1111" y="537.5" width="7.4" height="58.5" rx="0" stroke-width="1" fill="none" />
<rect x="1101.2" y="547" width="9.4" height="7" rx="0" stroke-width="1" fill="#fff" />
<path d="M1101.2,549.3L1110.6,549.3" stroke-width="0.9" stroke="#555"/>
<path d="M1101.2,551.7L1110.6,551.7" stroke-width="0.9" stroke="#555"/>
<path d="M1118,547a3,3.5 0 0 0 0,7" stroke-width="1" fill="#999" />
<rect x="1101.2" y="579.4" width="9.4" height="7" rx="0" stroke-width="1" fill="#fff" />
<path d="M1101.2,581.7L1110.6,581.7" stroke-width="0.9" stroke="#555"/>
<path d="M1101.2,584.1L1110.6,584.1" stroke-width="0.9" stroke="#555"/>
<path d="M1118,579.4a3,3.5 0 0 0 0,7" stroke-width="1" fill="#999" />
<rect x="1111" y="587.5" width="7.4" height="8.5" rx="0" stroke-width="1.1" fill="none" />
<path d="M1138.4,537L1138.4,597" stroke-width="2.6" />
<rect x="1135" y="541" width="3.2" height="5" rx="0" stroke-width="0.8" fill="#fff" />
<rect x="1135" y="553" width="3.2" height="7" rx="0" stroke-width="0.8" fill="#fff" />
<rect x="1135" y="567" width="3.2" height="7" rx="0" stroke-width="0.8" fill="#fff" />
<rect x="1135" y="581" width="3.2" height="7" rx="0" stroke-width="0.8" fill="#fff" />
<rect x="1114.3" y="451.2" width="22.9" height="28" rx="5" stroke-width="1" fill="none" />
<rect x="1121.5" y="452" width="8.5" height="6" rx="0" stroke-width="0.9" fill="none" />
<path d="M1118.6,461.20q7.4,-4.2 14.8,0M1118.6,462.75q7.4,-4.2 14.8,0M1118.6,464.30q7.4,-4.2 14.8,0M1118.6,465.85q7.4,-4.2 14.8,0M1118.6,467.40q7.4,-4.2 14.8,0M1118.6,468.95q7.4,-4.2 14.8,0M1118.6,470.50q7.4,-4.2 14.8,0" stroke-width="1" fill="none" stroke="#111"/>
<rect x="1119.2" y="470" width="13.6" height="48" rx="0" stroke-width="0" fill="#fff" stroke="none"/>
<path d="M1118.4,516V467Q1118.4,458.6 1126,458.6Q1133.6,458.6 1133.6,467V516" stroke-width="2.4" fill="none" stroke-dasharray="1.3 0.9"/>
<path d="M1120.2,516V468" stroke-width="0.9" fill="none" />
<path d="M1131.8,516V468" stroke-width="0.9" fill="none" />
<path d="M1118.2,525L1118.2,733" stroke-width="1.3" stroke="#444" stroke-dasharray="0.9 0.6"/>
<path d="M1133.8,525L1133.8,733" stroke-width="1.3" stroke="#444" stroke-dasharray="0.9 0.6"/>
<rect x="1114.6" y="516.6" width="10.4" height="8.6" rx="0" stroke-width="1.1" fill="#fff" />
<rect x="1126.6" y="516.6" width="12.6" height="8.6" rx="0" stroke-width="1.1" fill="#fff" />
<path d="M1118.6,519h1.6v3.8h-1.6" stroke-width="1" fill="none" />
<rect x="1114.6" y="704.6" width="10.4" height="8.6" rx="0" stroke-width="1.1" fill="#fff" />
<rect x="1126.6" y="704.6" width="12.6" height="8.6" rx="0" stroke-width="1.1" fill="#fff" />
<path d="M1118.6,707h1.6v3.8h-1.6" stroke-width="1" fill="none" />
<path d="M1118,733Q1118.6,743 1126.6,744.5Q1134.4,743 1135,733" stroke-width="1" fill="none" />
<path d="M1118.2,742.00q8.4,3 16.8,0M1118.2,743.70q8.4,3 16.8,0M1118.2,745.40q8.4,3 16.8,0M1118.2,747.10q8.4,3 16.8,0M1118.2,748.80q8.4,3 16.8,0M1118.2,750.50q8.4,3 16.8,0M1118.2,752.20q8.4,3 16.8,0M1118.2,753.90q8.4,3 16.8,0M1118.2,755.60q8.4,3 16.8,0M1118.2,757.30q8.4,3 16.8,0M1118.2,759.00q8.4,3 16.8,0M1118.2,760.70q8.4,3 16.8,0M1118.2,762.40q8.4,3 16.8,0M1118.2,764.10q8.4,3 16.8,0M1118.2,765.80q8.4,3 16.8,0M1118.2,767.50q8.4,3 16.8,0M1118.2,769.20q8.4,3 16.8,0M1118.2,770.90q8.4,3 16.8,0M1118.2,772.60q8.4,3 16.8,0M1118.2,774.30q8.4,3 16.8,0M1118.2,776.00q8.4,3 16.8,0M1118.2,777.70q8.4,3 16.8,0M1118.2,779.40q8.4,3 16.8,0M1118.2,781.10q8.4,3 16.8,0M1118.2,782.80q8.4,3 16.8,0M1118.2,784.50q8.4,3 16.8,0M1118.2,786.20q8.4,3 16.8,0M1118.2,787.90q8.4,3 16.8,0M1118.2,789.60q8.4,3 16.8,0M1118.2,791.30q8.4,3 16.8,0M1118.2,793.00q8.4,3 16.8,0M1118.2,794.70q8.4,3 16.8,0M1118.2,796.40q8.4,3 16.8,0M1118.2,798.10q8.4,3 16.8,0M1118.2,799.80q8.4,3 16.8,0M1118.2,801.50q8.4,3 16.8,0M1118.2,803.20q8.4,3 16.8,0M1118.2,804.90q8.4,3 16.8,0M1118.2,806.60q8.4,3 16.8,0M1118.2,808.30q8.4,3 16.8,0M1118.2,810.00q8.4,3 16.8,0" stroke-width="1" fill="none" stroke="#222"/>
<path d="M1118.2,752.00q8.4,3 16.8,0M1118.2,753.70q8.4,3 16.8,0M1118.2,755.40q8.4,3 16.8,0M1118.2,757.10q8.4,3 16.8,0M1118.2,758.80q8.4,3 16.8,0M1118.2,760.50q8.4,3 16.8,0M1118.2,762.20q8.4,3 16.8,0M1118.2,763.90q8.4,3 16.8,0M1118.2,765.60q8.4,3 16.8,0M1118.2,767.30q8.4,3 16.8,0M1118.2,769.00q8.4,3 16.8,0M1118.2,770.70q8.4,3 16.8,0M1118.2,772.40q8.4,3 16.8,0M1118.2,774.10q8.4,3 16.8,0M1118.2,775.80q8.4,3 16.8,0M1118.2,777.50q8.4,3 16.8,0M1118.2,779.20q8.4,3 16.8,0M1118.2,780.90q8.4,3 16.8,0M1118.2,782.60q8.4,3 16.8,0M1118.2,784.30q8.4,3 16.8,0M1118.2,786.00q8.4,3 16.8,0M1118.2,787.70q8.4,3 16.8,0M1118.2,789.40q8.4,3 16.8,0M1118.2,791.10q8.4,3 16.8,0M1118.2,792.80q8.4,3 16.8,0" stroke-width="1.3" fill="none" />
<path d="M1118.2,738L1118.2,812" stroke-width="1.3" />
<path d="M1135,742L1135,812" stroke-width="1.1" />
<path d="M1136.9,738L1136.9,814" stroke-width="1.2" />
<path d="M1121.5,813.6A5.5,6.5 0 0 1 1131.5,813.6Z" stroke-width="0.5" fill="#fff" />
<path d="M1135,785.4L1137.6,785.4" stroke-width="3.4" />
<rect x="1116.6" y="813.6" width="18.4" height="13.4" rx="0" stroke-width="1.2" fill="#fff" />
<rect x="1121.4" y="813.6" width="9" height="13.4" rx="0" stroke-width="1" fill="none" />
<path d="M1109.4,864.6L1138,864.6" stroke-width="2.2" />
<path d="M1109.2,833L1109.2,865" stroke-width="2.2" />
<path d="M1107,833Q1105.5,840 1107.5,850" stroke-width="1" fill="none" stroke-dasharray="3 1.5"/>
<circle cx="1116.6" cy="838.6" r="5.2" stroke-width="1.3" fill="#fff" />
<circle cx="1116.6" cy="855.6" r="5.2" stroke-width="1.3" fill="#fff" />
<path d="M1119.5,866.5Q1126,872 1137.5,872.8" stroke-width="1.4" fill="none" />
<rect x="1135.6" y="866" width="3" height="5.4" rx="0" stroke-width="1" fill="none" />
<path d="M1079.5,416.8L1135.8,416.8" stroke-width="5.6" />
<path d="M1083.5,419l3.4,-4.4M1090.5,419l3.4,-4.4M1097.5,419l3.4,-4.4M1104.5,419l3.4,-4.4M1111.5,419l3.4,-4.4M1118.5,419l3.4,-4.4M1125.5,419l3.4,-4.4M1132.5,419l3.4,-4.4" stroke-width="0.55" fill="none" stroke="#555"/>
<rect x="1064.6" y="413.6" width="6" height="7.6" rx="0" stroke-width="1.1" fill="#fff" />
<rect x="1074.4" y="412.2" width="5.2" height="10.4" rx="0" stroke-width="1.2" fill="#fff" />
<rect x="1135.8" y="412" width="3.8" height="10.6" rx="0" stroke-width="1.2" fill="#fff" />
<path d="M1048,379.6V406.5H1072.8V430" stroke-width="4.4" fill="none" stroke-linejoin="round" stroke-linecap="round"/>
<path d="M1077.8,830.3L1133.8,830.3" stroke-width="5.6" />
<path d="M1081.8,832.5l3.4,-4.4M1088.8,832.5l3.4,-4.4M1095.8,832.5l3.4,-4.4M1102.8,832.5l3.4,-4.4M1109.8,832.5l3.4,-4.4M1116.8,832.5l3.4,-4.4M1123.8,832.5l3.4,-4.4" stroke-width="0.55" fill="none" stroke="#555"/>
<rect x="1063" y="826.4" width="4.6" height="7.8" rx="0" stroke-width="1.1" fill="#fff" />
<rect x="1072.8" y="825.6" width="5.2" height="9.6" rx="0" stroke-width="1.2" fill="#fff" />
<rect x="1133.8" y="825.4" width="4.6" height="10" rx="0" stroke-width="1.2" fill="#fff" />
<path d="M1046.4,791.7V819.8H1071.6V843" stroke-width="3.9" fill="none" stroke-linejoin="round" stroke-linecap="round"/>
<path d="M1115,886L1138,883.6V905.4L1116,902Z" stroke-width="1.3" fill="#fff" />
<path d="M1115.4,889L1138,887" stroke-width="1" />
<rect x="1106.8" y="893" width="8.4" height="6.2" rx="0" stroke-width="1.2" fill="#fff" />
<path d="M1108.6,893L1108.6,899.2" stroke-width="0.9" />
<path d="M1110.4,893L1110.4,899.2" stroke-width="0.9" />
<path d="M1112.2,893L1112.2,899.2" stroke-width="0.9" />
<path d="M1139,907.8H1131C1106,908.5 1086.7,922 1086.7,943.5V1103" stroke-width="3" fill="none" />
<rect x="1131" y="905.4" width="8" height="3.8" rx="1.5" stroke-width="0.5" fill="#000" />
<path d="M1139.2,984L1139.2,1103" stroke-width="2.6" />
<path d="M1139.4,961.6H1132V974Q1132.6,979 1139.4,981.4" stroke-width="2.2" fill="none" />
<path d="M1085.4,985.2L1139,985.2" stroke-width="3.2" stroke-linecap="round"/>
<path d="M1085.4,991L1139,991" stroke-width="3.2" stroke-linecap="round"/>
<path d="M1085.4,996.8L1139,996.8" stroke-width="3.2" stroke-linecap="round"/>
<rect x="1141.4" y="405.4" width="17.8" height="652.1" rx="0" stroke-width="0" fill="#fff" stroke="none"/>
<path d="M1141.4,1057.5V406.6L1142.6,405.4H1158L1159.2,406.6V1057.5" stroke-width="3.2" fill="none" />
<path d="M1141.4,406L1141.4,1057.5" stroke-width="3.6" />
<rect x="1147" y="415.2" width="6.2" height="3.6" rx="0" stroke-width="1.2" fill="none" />
<path d="M1140,1057.2L1161,1057.2" stroke-width="2.8" />
<path d="M1157,1057.5L1157,1091" stroke-width="3" />
<path d="M1140.7,1057L1140.7,1102" stroke-width="5.3" />
<rect x="1141.8" y="1090.4" width="18" height="4.4" rx="2" stroke-width="2.6" fill="#fff" />
<circle cx="1160.8" cy="823.6" r="1.5" stroke-width="0" fill="#000" stroke="none"/>
<path d="M1086,1065L1143,1065" stroke-width="2.5" />
<path d="M1086,1079.6L1143,1079.6" stroke-width="2.3" />
<path d="M1081.6,1104V1111.5L1084.6,1114.5V1122" stroke-width="2.4" fill="none" />
<path d="M1144.6,1104V1111.5L1141.6,1114.5V1122" stroke-width="2.4" fill="none" />
<path d="M1082,1103.9L1145,1103.9" stroke-width="3.8" stroke-linecap="round"/>
<path d="M1075,1122.8L1145,1122.8" stroke-width="4" stroke-linecap="round"/>
<path d="M1076.8,1124V1149.8Q1076.8,1152.8 1079.8,1152.8H1139.8Q1142.8,1152.8 1142.8,1149.8V1124" stroke-width="3" fill="none" />
</g>
<g id="sdim">
<path d="M784,332.2L1046,332.2" stroke-width="1" />
<polygon points="1046.6,332.2 1022.6,336.2 1022.6,328.2" stroke-width="0" fill="#000" stroke="none"/>
<path d="M1046.6,320L1046.6,367.6" stroke-width="1" />
<text y="321.2" font-size="42.7" class="t" style="stroke-width:1.1px" ><tspan x="790.16" letter-spacing="0.13">190</tspan><tspan x="872.33" letter-spacing="0.00">−</tspan><tspan x="910.66" letter-spacing="0.43">160</tspan></text>
<path d="M1111,332.2L1158,332.2" stroke-width="1" />
<polygon points="1158.4,332.2 1134.4,336.2 1134.4,328.2" stroke-width="0" fill="#000" stroke="none"/>
<path d="M1158.6,320L1158.6,398.5" stroke-width="1" />
<path d="M1160,332.2L1421.8,332.2" stroke-width="1" />
<polygon points="1159.6,332.2 1183.6,328.2 1183.6,336.2" stroke-width="0" fill="#000" stroke="none"/>
<polygon points="1198.6,332.2 1222.6,328.2 1222.6,336.2" stroke-width="0" fill="#000" stroke="none"/>
<path d="M1198.2,320L1198.2,421.8" stroke-width="1" />
<text y="271.75" font-size="42.7" class="t" style="stroke-width:1.1px" ><tspan x="1256.91" letter-spacing="0.46">min<tspan font-family="DejaVu Sans,Liberation Sans,sans-serif" font-weight="bold" font-size="30.7" stroke="none">.</tspan></tspan><tspan x="1353.86" letter-spacing="0.81">15</tspan></text>
<text y="321.25" font-size="42.7" class="t" style="stroke-width:1.1px" ><tspan x="1250.61" letter-spacing="0.49">max<tspan font-family="DejaVu Sans,Liberation Sans,sans-serif" font-weight="bold" font-size="30.7" stroke="none">.</tspan></tspan><tspan x="1357.50" letter-spacing="2.97">65</tspan></text>
<path d="M1198.6,475.3L1446.8,475.3" stroke-width="1" />
<text y="430.3" font-size="34.6" class="t" style="stroke-width:1px" ><tspan x="1403.30" letter-spacing="0.05">1000</tspan></text>
<path d="M1406.7,435.6L1511.8,435.6" stroke-width="1" />
<path d="M1406.7,435.6L1429.7,474.9L1452.7,435.6" stroke-width="1" fill="none" />
<text y="784.8" font-size="34.6" class="t" style="stroke-width:1px" ><tspan x="1406.51" letter-spacing="0.63">410</tspan></text>
<text transform="translate(1471,767.4) scale(.68,1)" font-size="25" class="lb">+20</text>
<text transform="translate(1471,790) scale(.61,1)" font-size="25" class="lb">−10</text>
<path d="M1406.8,792.9L1511.9,792.9" stroke-width="1" />
<path d="M1406.8,792.9L1429.8,832L1452.8,792.9" stroke-width="1" fill="none" />
<text y="1018.5" font-size="34.6" class="t" style="stroke-width:1px" ><tspan x="1404.27" letter-spacing="0.63">±0<tspan font-family="DejaVu Sans,Liberation Sans,sans-serif" font-weight="bold" font-size="27.7" stroke="none">.</tspan>00</tspan></text>
<path d="M1406.8,1025.2L1511.9,1025.2" stroke-width="1" />
<path d="M1406.8,1025.2L1429.8,1064L1452.8,1025.2" stroke-width="1" fill="none" />
<polygon points="990.2,818.4 1000.2,818.4 993.4,838 1003.4,833.2 997.8,856.4 1000.8,857.6 992.6,868.4 989.6,855.2 992.6,856.4 994.6,842.8 982.2,848" stroke-width="0" fill="#000" stroke="none"/>
<path d="M1005.5,846.6L1085,846.6" stroke-width="1" />
<polygon points="1103,846.6 1080,851.8 1080,841.4" stroke-width="0" fill="#000" stroke="none"/>
</g>
<g id="top">
<path d="M1666.4,575A29.5,29.5 0 0 1 1708.6,575" stroke-width="2.4" fill="none" />
<path d="M1671.5,575A24,24 0 0 1 1703.5,575" stroke-width="2.2" fill="none" />
<path d="M1625.5,652.40H1749.5M1625.5,655.48H1749.5M1625.5,658.56H1749.5M1625.5,661.64H1749.5M1625.5,664.72H1749.5M1625.5,667.80H1749.5M1625.5,670.88H1749.5M1625.5,673.96H1749.5M1625.5,677.04H1749.5M1625.5,680.12H1749.5M1625.5,683.20H1749.5M1625.5,686.28H1749.5" stroke-width="1.1" fill="none" stroke="#4a4a4a"/>
<path d="M1626.2,651L1624.2,686.4" stroke-width="2.2" fill="none" stroke-dasharray="1.5 1.5"/>
<path d="M1748.8,651L1750.8,686.4" stroke-width="2.2" fill="none" stroke-dasharray="1.5 1.5"/>
<path d="M1657.4,652L1657.4,686" stroke-width="2.6" stroke="#333" stroke-dasharray="1.6 1.4"/>
<path d="M1657.4,652L1657.4,686" stroke-width="0.9" stroke="#fff" stroke-dasharray="1 2" stroke-dashoffset="-0.3"/>
<path d="M1717.6,652L1717.6,686" stroke-width="2.6" stroke="#333" stroke-dasharray="1.6 1.4"/>
<path d="M1717.6,652L1717.6,686" stroke-width="0.9" stroke="#fff" stroke-dasharray="1 2" stroke-dashoffset="-0.3"/>
<rect x="1621.6" y="686.6" width="131.8" height="5.2" rx="0" stroke-width="1" fill="#fff" />
<path d="M1620.6,691.8L1754.4,691.8" stroke-width="2" />
<polygon points="1622.2,692.4 1625.8,692.4 1624,697" stroke-width="0.5" fill="#000" />
<polygon points="1656.4,692.4 1660,692.4 1658.2,697" stroke-width="0.5" fill="#000" />
<polygon points="1685.7,692.4 1689.3,692.4 1687.5,697" stroke-width="0.5" fill="#000" />
<polygon points="1715,692.4 1718.6,692.4 1716.8,697" stroke-width="0.5" fill="#000" />
<polygon points="1749.2,692.4 1752.8,692.4 1751,697" stroke-width="0.5" fill="#000" />
<path d="M1642.2,687L1642.2,691.5" stroke-width="1.6" />
<path d="M1650.4,687L1650.4,691.5" stroke-width="1.6" />
<path d="M1724.6,687L1724.6,691.5" stroke-width="1.6" />
<path d="M1732.8,687L1732.8,691.5" stroke-width="1.6" />
<path d="M1552.6,569.6L1552.6,628" stroke-width="6.2" />
<rect x="1546.6" y="565.8" width="12" height="4.6" rx="0" stroke-width="1.1" fill="#fff" />
<rect x="1547" y="626.6" width="11.2" height="6" rx="0" stroke-width="1.1" fill="#fff" />
<rect x="1540.8" y="538.2" width="23.1" height="26.2" rx="0" stroke-width="2.2" fill="#fff" />
<path d="M1539.7,538.8L1565,538.8" stroke-width="3.4" />
<path d="M1601.4,568L1601.4,575" stroke-width="5.6" />
<rect x="1595.6" y="564.6" width="11.6" height="4.6" rx="0" stroke-width="1.1" fill="#fff" />
<rect x="1589.7" y="537" width="23.3" height="25.8" rx="0" stroke-width="2.2" fill="#fff" />
<path d="M1588.6,537.5L1614.1,537.5" stroke-width="3.4" />
<path d="M1822.4,569.6L1822.4,628" stroke-width="6.2" />
<rect x="1816.4" y="565.8" width="12" height="4.6" rx="0" stroke-width="1.1" fill="#fff" />
<rect x="1816.8" y="626.6" width="11.2" height="6" rx="0" stroke-width="1.1" fill="#fff" />
<rect x="1811.1" y="538.2" width="23.1" height="26.2" rx="0" stroke-width="2.2" fill="#fff" />
<path d="M1810,538.8L1835.3,538.8" stroke-width="3.4" />
<path d="M1773.6,568L1773.6,575" stroke-width="5.6" />
<rect x="1767.8" y="564.6" width="11.6" height="4.6" rx="0" stroke-width="1.1" fill="#fff" />
<rect x="1762" y="537" width="23.3" height="25.8" rx="0" stroke-width="2.2" fill="#fff" />
<path d="M1760.9,537.5L1786.4,537.5" stroke-width="3.4" />
<path d="M1540.4,634V618Q1540.4,607 1550,606.6" stroke-width="1.2" fill="none" />
<path d="M1549.4,610.4A8,8 0 0 0 1549.4,625Z" stroke-width="0.5" fill="#222" />
<rect x="1556" y="607.8" width="12" height="19.2" rx="0" stroke-width="0.9" fill="#fff" />
<path d="M1557,611L1567,609.4" stroke-width="0.8" stroke-dasharray="1.2 0.8"/>
<path d="M1557,624L1567,625.4" stroke-width="0.8" stroke-dasharray="1.2 0.8"/>
<rect x="1567.6" y="605.4" width="3.2" height="24" rx="0" stroke-width="0.9" fill="#fff" />
<rect x="1558.8" y="601.6" width="6.2" height="6.2" rx="0" stroke-width="0.9" fill="#fff" />
<path d="M1810.8,634V617A11.9,11.9 0 0 1 1834.6,617V634" stroke-width="1.2" fill="#fff" />
<rect x="1810.4" y="601.6" width="5.8" height="6.2" rx="0" stroke-width="0.9" fill="#fff" />
<circle cx="1822.6" cy="617" r="8.6" stroke-width="2" fill="#fff" />
<rect x="1805.2" y="605.4" width="1.6" height="23.6" rx="0" stroke-width="0.8" fill="none" />
<path d="M1552.6,571L1552.6,628" stroke-width="6.2" />
<rect x="1547" y="626.6" width="11.2" height="6" rx="0" stroke-width="1.1" fill="#fff" />
<path d="M1822.4,571L1822.4,628" stroke-width="6.2" />
<rect x="1816.8" y="626.6" width="11.2" height="6" rx="0" stroke-width="1.1" fill="#fff" />
<path d="M1566.4,637.8V582Q1566.4,574.8 1573.6,574.8H1801.4Q1808.6,574.8 1808.6,582V637.8" stroke-width="1.1" fill="#fff" />
<path d="M1566.6,584V582Q1566.6,574.8 1573.8,574.8H1801.2Q1808.4,574.8 1808.8,582L1809.8,610.5" stroke-width="2.6" fill="none" />
<rect x="1563.6" y="637.8" width="247.8" height="12" rx="0" stroke-width="2.6" fill="#fff" />
<path d="M1563.6,637.8L1811.4,637.8" stroke-width="3" />
<rect x="1540.8" y="633.4" width="22.6" height="17" rx="2.5" stroke-width="1.3" fill="#fff" />
<rect x="1542.2" y="636" width="3.4" height="12" rx="1.5" stroke-width="0.9" fill="#999" />
<rect x="1558.9" y="636" width="3.4" height="12" rx="1.5" stroke-width="0.9" fill="#999" />
<path d="M1549.4,635.4V641.6H1555.8V635.4" stroke-width="1.1" fill="none" />
<path d="M1546,634L1546,650" stroke-width="0.8" />
<path d="M1558,634L1558,650" stroke-width="0.8" />
<rect x="1811.6" y="633.4" width="22.6" height="17" rx="2.5" stroke-width="1.3" fill="#fff" />
<rect x="1829.4" y="636" width="3.4" height="12" rx="1.5" stroke-width="0.9" fill="#999" />
<rect x="1812.7" y="636" width="3.4" height="12" rx="1.5" stroke-width="0.9" fill="#999" />
<path d="M1825.6,635.4V641.6H1819.2V635.4" stroke-width="1.1" fill="none" />
<path d="M1829,634L1829,650" stroke-width="0.8" />
<path d="M1817,634L1817,650" stroke-width="0.8" />
<rect x="1628.4" y="595" width="31.2" height="31" rx="1" stroke-width="2.8" fill="none" stroke-dasharray="3.3 3.2" stroke-dashoffset="1.4"/>
<rect x="1631.4" y="598.2" width="25.4" height="25" rx="0" stroke-width="2.3" fill="#fff" />
<circle cx="1644" cy="610.6" r="10.8" stroke-width="1" fill="none" />
<circle cx="1644" cy="610.6" r="9.2" stroke-width="1" fill="none" />
<circle cx="1644" cy="610.6" r="6.4" stroke-width="2.1" fill="none" />
<circle cx="1644" cy="610.6" r="3.6" stroke-width="1.5" fill="none" />
<rect x="1567.6" y="605.4" width="3.2" height="24" rx="0" stroke-width="0.9" fill="#fff" />
<circle cx="1732" cy="610.1" r="13.3" stroke-width="3.3" fill="none" />
<circle cx="1732" cy="610.1" r="9.3" stroke-width="1.2" fill="none" />
</g>
<g id="tdim">
<path d="M1540.6,477.5L1540.6,527.5" stroke-width="1" />
<path d="M1834.6,477.5L1834.6,527.5" stroke-width="1" />
<path d="M1540.6,489.6L1834.6,489.6" stroke-width="1" />
<polygon points="1540.6,489.6 1564.6,485.6 1564.6,493.6" stroke-width="0" fill="#000" stroke="none"/>
<polygon points="1834.6,489.6 1810.6,493.6 1810.6,485.6" stroke-width="0" fill="#000" stroke="none"/>
<text y="478" font-size="42.7" class="t" style="stroke-width:1.1px" ><tspan x="1644.64" letter-spacing="2.24">500</tspan></text>
<path d="M1846,537.6L1892.5,537.6" stroke-width="1" />
<path d="M1844,649.6L1892.5,649.6" stroke-width="1" />
<path d="M1880.6,537.6L1880.6,649.6" stroke-width="1" />
<polygon points="1880.6,537.6 1884.6,561.6 1876.6,561.6" stroke-width="0" fill="#000" stroke="none"/>
<polygon points="1880.6,649.6 1876.6,625.6 1884.6,625.6" stroke-width="0" fill="#000" stroke="none"/>
<text transform="translate(1949.4,688.9) rotate(-90)" y="0" font-size="42.7" class="t" style="stroke-width:1.1px" ><tspan x="-4.14" letter-spacing="0.83">190</tspan><tspan x="77.93" letter-spacing="0.00">−</tspan><tspan x="112.76" letter-spacing="1.63">160</tspan></text>
</g>
</g></svg></body></html>
